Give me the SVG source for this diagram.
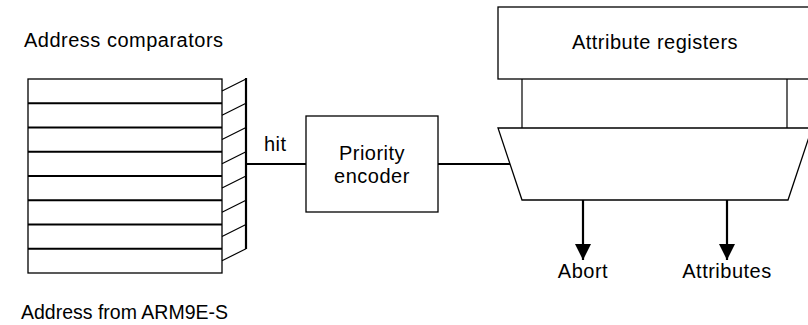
<svg xmlns="http://www.w3.org/2000/svg" width="808" height="325" viewBox="0 0 808 325">
<defs>
<style>
.t{font-family:"Liberation Sans",Arial,sans-serif;font-size:20px;letter-spacing:0.5px;fill:#000}
.m{text-anchor:middle}
.box{fill:#fff;stroke:#000;stroke-width:1.3}
.thin{fill:none;stroke:#000;stroke-width:1.2}
.sep{fill:none;stroke:#000;stroke-width:1.8}
.wire{fill:none;stroke:#000;stroke-width:2.2}
</style>
<marker id="ah" viewBox="0 0 16 16" refX="16" refY="8" markerWidth="16" markerHeight="16" markerUnits="userSpaceOnUse" orient="auto">
<path d="M0,0 L16,8 L0,16 Z" fill="#000"/>
</marker>
</defs>
<rect width="808" height="325" fill="#fff"/>

<g id="comparators">
<text class="t" x="24" y="47">Address comparators</text>
<rect class="box" x="28" y="79" width="194" height="194"/>
<path class="sep" d="M28,103.25H222 M28,127.5H222 M28,151.75H222 M28,176H222 M28,200.25H222 M28,224.5H222 M28,248.75H222"/>
<path class="thin" d="M222,91L246,79 M222,115.25L246,103.25 M222,139.5L246,127.5 M222,163.75L246,151.75 M222,188L246,176 M222,212.25L246,200.25 M222,236.5L246,224.5 M222,260.75L246,248.75"/>
<path class="wire" d="M246,78V249"/>
<text class="t" x="21" y="319" style="font-size:19.5px;letter-spacing:0">Address from ARM9E-S</text>
</g>

<g id="priority-encoder">
<rect class="box" x="306" y="116" width="132" height="96"/>
<text class="t m" x="372" y="160">Priority</text>
<text class="t m" x="372" y="183">encoder</text>
</g>

<g id="attribute-registers">
<rect class="box" x="498" y="7" width="316" height="72"/>
<text class="t m" x="655" y="49">Attribute registers</text>
<path class="thin" d="M522,79V128 M787,79V128"/>
</g>

<g id="mux">
<path class="box" d="M498,128H812L788,200H522Z"/>
</g>

<g id="connectors">
<path class="wire" d="M246,164H306"/>
<text class="t" x="264" y="151">hit</text>
<path class="wire" d="M438,164H510"/>
<path class="wire" d="M583,200V260" marker-end="url(#ah)"/>
<path class="wire" d="M727,200V260" marker-end="url(#ah)"/>
<text class="t m" x="583" y="278">Abort</text>
<text class="t m" x="727" y="278">Attributes</text>
</g>
</svg>
